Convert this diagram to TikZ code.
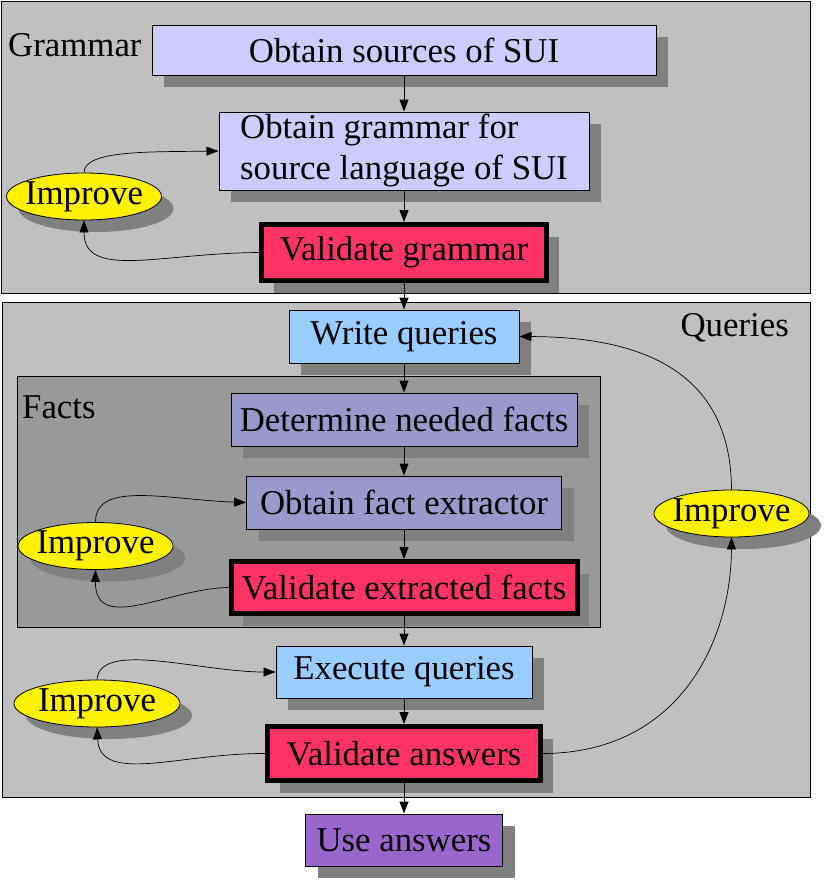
\documentclass[tikz,border=0pt]{standalone}
\usepackage{fontspec}
\setmainfont{Liberation Serif}
\usetikzlibrary{shapes.geometric,shadows,arrows.meta}
\definecolor{clgray}{HTML}{C0C0C0}
\definecolor{factgray}{HTML}{999999}
\definecolor{shgray}{HTML}{808080}
\definecolor{lavender}{HTML}{CCCCFF}
\definecolor{redbox}{HTML}{FF3366}
\definecolor{skyblue}{HTML}{99CCFF}
\definecolor{factbox}{HTML}{9999CC}
\definecolor{usebox}{HTML}{9966CC}
\begin{document}
\begin{tikzpicture}[x=1pt,y=-1pt,
  every node/.style={font=\fontsize{34.8}{41}\selectfont},
  cluster/.style={draw=black,line width=1pt},
  sh/.style={drop shadow={shadow xshift=12pt,shadow yshift=-12pt,opacity=1,fill=shgray}},
  box/.style={rectangle,draw=black,line width=1pt,inner sep=0pt,sh},
  vbox/.style={box,line width=5pt},
  impr/.style={ellipse,draw=black,line width=0.8pt,fill=yellow,inner xsep=-6pt,inner ysep=-3pt,minimum width=155pt,minimum height=47pt,sh},
  lbl/.style={inner sep=0pt},
  flow/.style={-{Triangle[length=12pt,width=9pt]},line width=1pt},
  loop/.style={-{Triangle[length=12pt,width=9pt]},line width=0.7pt}
]
\useasboundingbox (0,0) rectangle (823,881);
% clusters
\draw[cluster,fill=clgray] (1,1) rectangle (810,293);
\node[lbl,anchor=west] (lgram) at (8,45) {Grammar};
\draw[cluster,fill=clgray] (2,302) rectangle (810,797);
\node[lbl,anchor=east] (lqry) at (789,328) {Queries};

% grammar nodes
\node[box,fill=lavender,minimum width=504pt,minimum height=50pt] (src) at (404,50) {Obtain sources of SUI};
\node[box,fill=lavender,minimum width=370pt,minimum height=78pt,align=left] (gram) at (404,151) {Obtain grammar for\\source language of SUI};
\node[vbox,fill=redbox,minimum width=285pt,minimum height=56pt] (valg) at (404,252.5) {Validate grammar};
\node[impr] (impG) at (84,196.5) {Improve};

% queries
\node[box,fill=skyblue,minimum width=230pt,minimum height=53pt] (wq) at (404,336.5) {Write queries};

% facts cluster
\draw[cluster,fill=factgray] (17,376) rectangle (600,627);
\node[lbl,anchor=west] (lfact) at (22,407) {Facts};
\node[box,fill=factbox,minimum width=346pt,minimum height=53pt] (det) at (404,419.5) {Determine needed facts};
\node[box,fill=factbox,minimum width=315pt,minimum height=53pt] (ofe) at (404,502.5) {Obtain fact extractor};
\node[vbox,fill=redbox,minimum width=346pt,minimum height=52pt] (vef) at (404,587.5) {Validate extracted facts};
\node[impr] (impF) at (95.5,546) {Improve};

\node[impr] (impQ) at (731.5,513.5) {Improve};
\node[box,fill=skyblue,minimum width=256pt,minimum height=52pt] (exq) at (404,672) {Execute queries};
\node[vbox,fill=redbox,minimum width=273pt,minimum height=54pt] (vans) at (404,753.5) {Validate answers};
\node[impr,minimum width=166pt] (impA) at (97,703.5) {Improve};
\node[box,fill=usebox,minimum width=197pt,minimum height=52pt] (use) at (404,840) {Use answers};

% main flow
\draw[flow] (src.south) -- (gram.north);
\draw[flow] (gram.south) -- (valg.north);
\draw[flow] (valg.south) -- (wq.north);
\draw[flow] (wq.south) -- (det.north);
\draw[flow] (det.south) -- (ofe.north);
\draw[flow] (ofe.south) -- (vef.north);
\draw[flow] (vef.south) -- (exq.north);
\draw[flow] (exq.south) -- (vans.north);
\draw[flow] (vans.south) -- (use.north);

% improvement loops
\draw[loop] (impG.north) .. controls (84,150) and (150,152) .. (gram.west);
\draw[loop] (valg.west) .. controls (160,253) and (84,280) .. (impG.south);
\draw[loop] (impF.north) .. controls (95,480) and (170,500) .. (ofe.west);
\draw[loop] (vef.west) .. controls (170,588) and (95,635) .. (impF.south);
\draw[loop] (impA.north) .. controls (100,640) and (200,672) .. (exq.west);
\draw[loop] (vans.west) .. controls (180,753) and (100,785) .. (impA.south);
\draw[loop] (vans.east) .. controls (680,753) and (731,640) .. (impQ.south);
\draw[loop] (impQ.north) .. controls (731,370) and (640,337) .. (wq.east);
\end{tikzpicture}
\end{document}
